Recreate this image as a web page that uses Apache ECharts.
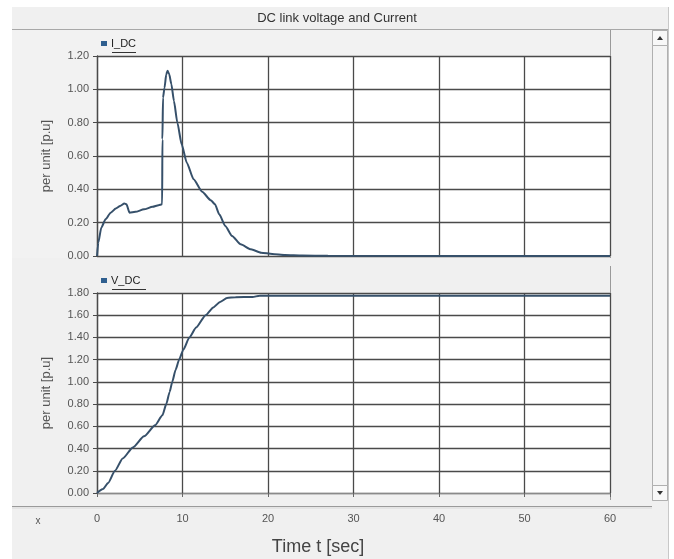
<!DOCTYPE html>
<html><head><meta charset="utf-8">
<script src="https://cdn.jsdelivr.net/npm/echarts@6/dist/echarts.min.js"></script>
<style>html,body{margin:0;padding:0;background:#fff}#c{width:674px;height:559px}</style>
</head><body><div id="c"></div>
<script>
const chartTitle = 'DC link voltage and Current';
const xAxisName = 'Time t [sec]';
const yAxisName = 'per unit [p.u]';
const seriesNames = ['I_DC', 'V_DC'];
const xMin = 0, xMax = 60, xStep = 10;
const idcMax = 1.2, vdcMax = 1.8, yStep = 0.2;

const timeIdc = [0, 0.15, 0.5, 1.0, 1.6, 2.2, 2.7, 3.2, 3.45, 3.8, 4.5, 5.5, 6.5, 7.2, 7.62, 7.65, 7.72, 7.9, 8.1, 8.25, 8.45, 8.7, 9.0, 9.4, 9.9, 10.5, 11.3, 12.3, 13.3, 13.8, 14.3, 15.0, 15.8, 16.8, 18.0, 19.2, 20.5, 22.0, 24.0, 27.0, 60];
const valuesIdc = [0, 0.08, 0.17, 0.22, 0.26, 0.285, 0.30, 0.315, 0.31, 0.26, 0.265, 0.28, 0.295, 0.305, 0.31, 0.70, 0.95, 1.01, 1.09, 1.112, 1.09, 1.03, 0.93, 0.80, 0.67, 0.56, 0.46, 0.385, 0.335, 0.31, 0.25, 0.18, 0.12, 0.07, 0.04, 0.02, 0.012, 0.006, 0.003, 0.001, 0];

const timeVdc = [0, 0.7, 1.3, 2.1, 3.0, 4.2, 5.5, 6.8, 7.65, 8.1, 8.5, 8.8, 9.2, 9.6, 10.1, 10.8, 11.6, 12.7, 13.6, 14.4, 15.2, 16.2, 18.2, 19.0, 22, 60];
const valuesVdc = [0, 0.035, 0.09, 0.2, 0.31, 0.41, 0.51, 0.61, 0.70, 0.80, 0.91, 1.0, 1.11, 1.2, 1.29, 1.40, 1.49, 1.6, 1.67, 1.72, 1.755, 1.762, 1.764, 1.775, 1.776, 1.776];

const pair = (xs, ys) => xs.map((x, i) => [x, ys[i]]);
const GRID = '#4a4a4a';
const LINE = '#36506a';
const FONT = 'Liberation Sans, Arial, sans-serif';

const chart = echarts.init(document.getElementById('c'), null, {renderer: 'canvas'});

function yAxis(gi, max) {
  return {
    type: 'value', gridIndex: gi, min: 0, max: max, interval: yStep,
    name: yAxisName, nameLocation: 'middle', nameGap: 44,
    nameTextStyle: {fontSize: 13, color: '#555', fontFamily: FONT},
    axisLine: {show: true, lineStyle: {color: GRID, width: 1.3}},
    axisTick: {show: true, length: 4, lineStyle: {color: GRID}},
    axisLabel: {margin: 8, fontSize: 11, color: '#555', fontFamily: FONT,
      formatter: v => v.toFixed(2)},
    splitLine: {show: true, lineStyle: {color: GRID, width: 1.3}}
  };
}
function xAxis(gi, showLabels) {
  return {
    type: 'value', gridIndex: gi, min: xMin, max: xMax, interval: xStep,
    offset: showLabels ? 14 : 0,
    axisLine: {show: showLabels, lineStyle: {color: '#8a8a8a', width: 1}},
    axisTick: {show: showLabels, length: 4, lineStyle: {color: '#666'}},
    axisLabel: {show: showLabels, margin: 6, fontSize: 11, color: '#555', fontFamily: FONT},
    splitLine: {show: true, lineStyle: {color: GRID, width: 1.3}}
  };
}

const option = {
  animation: false,
  backgroundColor: '#fff',
  title: {
    text: chartTitle, left: 'center', top: 12, padding: 0,
    textStyle: {fontSize: 13, fontWeight: 'normal', color: '#333',
      fontFamily: 'Liberation Sans Narrow, Arial Narrow, Liberation Sans, sans-serif'}
  },
  legend: [
    {data: [seriesNames[0]], left: 101, top: 38, icon: 'rect', itemWidth: 6, itemHeight: 5, itemGap: 4,
     padding: 0, textStyle: {fontSize: 11, color: '#222', fontFamily: FONT, padding: [0,0,0,-1]}},
    {data: [seriesNames[1]], left: 101, top: 275, icon: 'rect', itemWidth: 6, itemHeight: 5, itemGap: 4,
     padding: 0, textStyle: {fontSize: 11, color: '#222', fontFamily: FONT, padding: [0,0,0,-1]}}
  ],
  grid: [
    {left: 97, top: 56, width: 513, height: 200, show: true, backgroundColor: '#fff', borderWidth: 0},
    {left: 97, top: 293, width: 513, height: 200, show: true, backgroundColor: '#fff', borderWidth: 0}
  ],
  xAxis: [xAxis(0, false), xAxis(1, true)],
  yAxis: [yAxis(0, idcMax), yAxis(1, vdcMax)],
  series: [
    {name: seriesNames[0], type: 'line', xAxisIndex: 0, yAxisIndex: 0, data: pair(timeIdc, valuesIdc),
     showSymbol: false, smooth: 0.2, smoothMonotone: 'x', color: '#2f5f8f',
     lineStyle: {color: LINE, width: 2}},
    {name: seriesNames[1], type: 'line', xAxisIndex: 1, yAxisIndex: 1, data: pair(timeVdc, valuesVdc),
     showSymbol: false, smooth: 0.2, smoothMonotone: 'x', color: '#2f5f8f',
     lineStyle: {color: LINE, width: 2}}
  ],
  graphic: [
    {type: 'rect', z: -10, silent: true, shape: {x: 12, y: 7, width: 656, height: 552}, style: {fill: '#f0f0f0'}},
    {type: 'rect', z: -9, silent: true, shape: {x: 12, y: 30, width: 598, height: 228}, style: {fill: '#f2f2f2'}},
    {type: 'line', z: -8, silent: true, shape: {x1: 12, y1: 29.5, x2: 668, y2: 29.5}, style: {stroke: '#a8a8a8', lineWidth: 1}},
    {type: 'line', z: -8, silent: true, shape: {x1: 610.5, y1: 30, x2: 610.5, y2: 258}, style: {stroke: '#9a9a9a', lineWidth: 1}},
    {type: 'line', z: -8, silent: true, shape: {x1: 610.5, y1: 266, x2: 610.5, y2: 500}, style: {stroke: '#9a9a9a', lineWidth: 1}},
    {type: 'line', z: -8, silent: true, shape: {x1: 12, y1: 506.5, x2: 652, y2: 506.5}, style: {stroke: '#9a9a9a', lineWidth: 1}},
    {type: 'line', z: -8, silent: true, shape: {x1: 12, y1: 508, x2: 652, y2: 508}, style: {stroke: '#d8d8d8', lineWidth: 1}},
    {type: 'line', z: -8, silent: true, shape: {x1: 668.5, y1: 7, x2: 668.5, y2: 559}, style: {stroke: '#c8c8c8', lineWidth: 1}},
    {type: 'rect', z: -7, silent: true, shape: {x: 652.5, y: 30.5, width: 15, height: 470}, style: {fill: '#f4f4f4', stroke: '#b0b0b0', lineWidth: 1}},
    {type: 'rect', z: -6, silent: true, shape: {x: 652.5, y: 30.5, width: 15, height: 15}, style: {fill: '#f8f8f8', stroke: '#b0b0b0', lineWidth: 1}},
    {type: 'rect', z: -6, silent: true, shape: {x: 652.5, y: 485.5, width: 15, height: 15}, style: {fill: '#f8f8f8', stroke: '#b0b0b0', lineWidth: 1}},
    {type: 'polygon', z: -5, silent: true, shape: {points: [[657, 40], [663, 40], [660, 36]]}, style: {fill: '#333'}},
    {type: 'polygon', z: -5, silent: true, shape: {points: [[657, 491], [663, 491], [660, 495]]}, style: {fill: '#333'}},
    {type: 'line', z: 5, silent: true, shape: {x1: 112, y1: 52.5, x2: 136, y2: 52.5}, style: {stroke: '#333', lineWidth: 1}},
    {type: 'line', z: 5, silent: true, shape: {x1: 112, y1: 289.5, x2: 146, y2: 289.5}, style: {stroke: '#333', lineWidth: 1}},
    {type: 'text', z: 5, silent: true, x: 38, y: 521, style: {text: 'x', fontSize: 10, fill: '#555', align: 'center', verticalAlign: 'middle', fontFamily: FONT}},
    {type: 'text', z: 5, silent: true, x: 318, y: 547, style: {text: xAxisName, fontSize: 18, fill: '#444', align: 'center', verticalAlign: 'middle', fontFamily: FONT}}
  ]
};
chart.setOption(option);
</script>
</body></html>
